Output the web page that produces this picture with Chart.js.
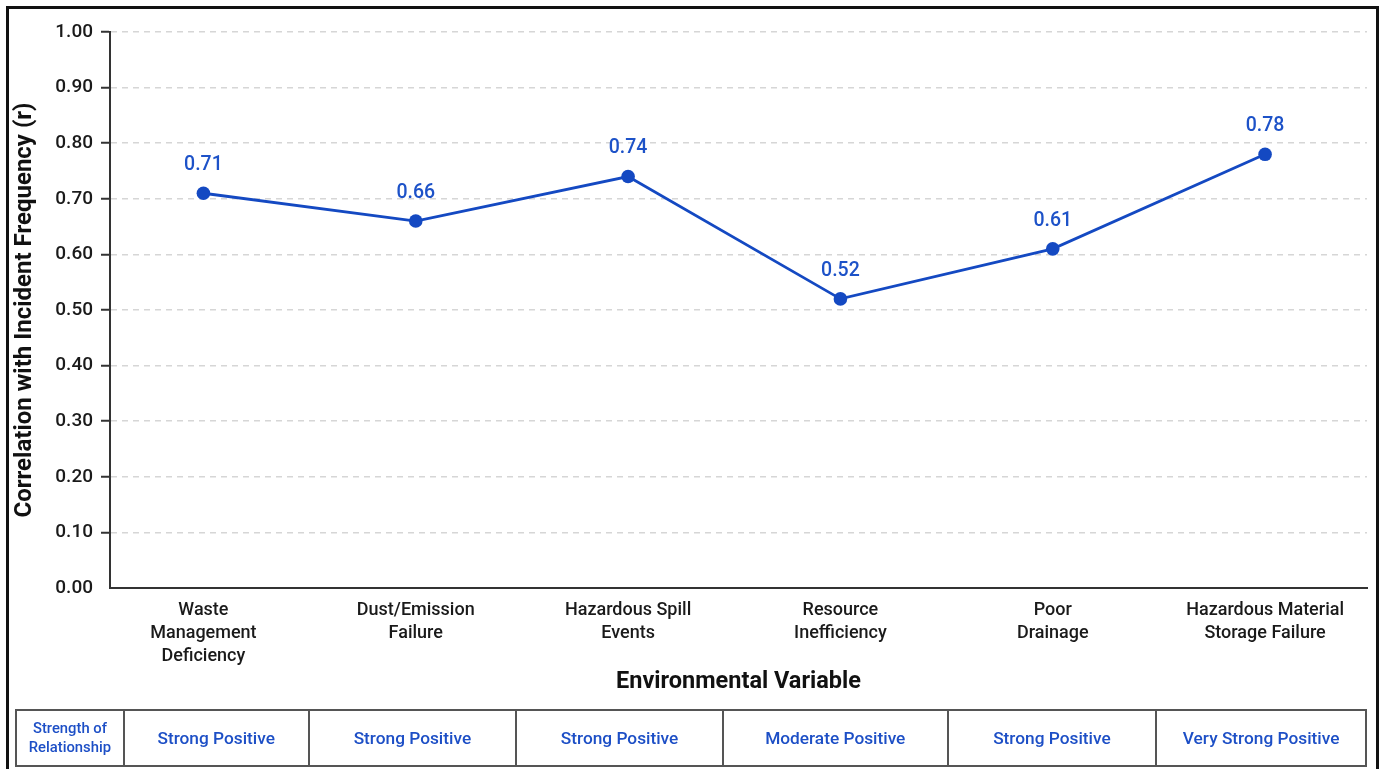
<!DOCTYPE html>
<html>
<head>
<meta charset="utf-8">
<script src="https://cdn.jsdelivr.net/npm/chart.js@4.4.1/dist/chart.umd.min.js"></script>
<style>
  html, body { margin: 0; padding: 0; background: #fff; }
  #wrap { position: relative; width: 1384px; height: 769px; overflow: hidden; background: #fff; }
  #frame { position: absolute; left: 6px; top: 6px; width: 1367px; height: 780px;
           border: 3px solid #111; box-sizing: content-box; }
  #c { position: absolute; left: 0; top: 0; }
  #strength { position: absolute; left: 15px; top: 709px; width: 1352px; height: 58px;
              border-collapse: collapse; table-layout: fixed;
              font-family: Roboto, "Liberation Sans", sans-serif; font-weight: 500; color: #1d4fc6; }
  #strength td { border: 2px solid #555; text-align: center; vertical-align: middle;
                 font-size: 17.3px; padding: 0; overflow: hidden; white-space: nowrap; }
  #strength td.head { font-size: 14.8px; line-height: 19px; white-space: normal; }
</style>
</head>
<body>
<div id="wrap">
  <canvas id="c" width="1384" height="769"></canvas>
  <div id="frame"></div>
  <table id="strength"><colgroup id="cols"></colgroup><tr id="strengthRow"></tr></table>
</div>
<script>
// Environmental variables and their correlation with incident frequency
const categories = [
  ["Waste", "Management", "Deficiency"],
  ["Dust/Emission", "Failure"],
  ["Hazardous Spill", "Events"],
  ["Resource", "Inefficiency"],
  ["Poor", "Drainage"],
  ["Hazardous Material", "Storage Failure"]
];
const correlations = [0.71, 0.66, 0.74, 0.52, 0.61, 0.78];
const strengthLabels = ["Strong Positive", "Strong Positive", "Strong Positive",
                        "Moderate Positive", "Strong Positive", "Very Strong Positive"];
const yTicks = [0, 0.1, 0.2, 0.3, 0.4, 0.5, 0.6, 0.7, 0.8, 0.9, 1.0];

const BLUE = '#1449c2';
const LABEL_BLUE = '#1d52c8';
const FONT = 'Roboto, "Liberation Sans", sans-serif';

// Strength-of-relationship row under the chart
const colWidths = [108, 185, 208, 207, 225, 209, 210];
const cols = document.getElementById('cols');
colWidths.forEach(w => {
  const col = document.createElement('col');
  col.style.width = (w / 1352 * 100) + '%';
  cols.appendChild(col);
});
const row = document.getElementById('strengthRow');
const head = document.createElement('td');
head.className = 'head';
head.innerHTML = 'Strength of<br>Relationship';
row.appendChild(head);
strengthLabels.forEach(s => {
  const td = document.createElement('td');
  td.textContent = s;
  row.appendChild(td);
});

// Value labels above each point
const valueLabels = {
  id: 'valueLabels',
  afterDatasetsDraw(chart) {
    const ctx = chart.ctx;
    const meta = chart.getDatasetMeta(0);
    ctx.save();
    ctx.fillStyle = LABEL_BLUE;
    ctx.font = '500 19.5px ' + FONT;
    ctx.textAlign = 'center';
    ctx.textBaseline = 'middle';
    meta.data.forEach((pt, i) => {
      ctx.fillText(correlations[i].toFixed(2), pt.x, pt.y - 28);
    });
    ctx.restore();
  }
};

new Chart(document.getElementById('c'), {
  type: 'line',
  data: {
    datasets: [{
      data: correlations.map((v, i) => ({ x: i, y: v })),
      borderColor: BLUE,
      backgroundColor: BLUE,
      borderWidth: 2.8,
      pointRadius: 6.8,
      pointHoverRadius: 6.8,
      pointBackgroundColor: BLUE,
      pointBorderWidth: 0,
      tension: 0
    }]
  },
  options: {
    responsive: false,
    animation: false,
    events: [],
    layout: { padding: { top: 32, right: 17, bottom: 69, left: 0 } },
    plugins: { legend: { display: false }, tooltip: { enabled: false } },
    scales: {
      x: {
        type: 'linear',
        min: -0.44,
        max: 5.48,
        afterBuildTicks: (s) => { s.ticks = categories.map((c, i) => ({ value: i })); },
        afterFit: (s) => { s.height = 112; },
        grid: { display: false, drawTicks: false },
        border: { display: true, color: '#333', width: 2 },
        ticks: {
          padding: 11,
          color: '#1a1a1a',
          font: { family: FONT, size: 18, weight: 500, lineHeight: 1.28 },
          maxRotation: 0,
          autoSkip: false,
          callback: (v) => categories[v] || ''
        },
        title: {
          display: true,
          text: 'Environmental Variable',
          color: '#111',
          font: { family: FONT, size: 23.5, weight: 'bold', lineHeight: 1.2 },
          padding: { top: 0, bottom: 4 }
        }
      },
      y: {
        min: 0,
        max: 1.0,
        afterBuildTicks: (s) => { s.ticks = yTicks.map(v => ({ value: v })); },
        afterFit: (s) => { s.width = 110; },
        border: { display: true, color: '#333', width: 2, dash: [6, 5] },
        grid: {
          color: (c) => (c.tick && c.tick.value === 0) ? 'rgba(0,0,0,0)' : '#d6d6d6',
          lineWidth: 1.5,
          drawTicks: true,
          tickLength: 9,
          tickColor: (c) => (c.tick && c.tick.value === 0) ? 'rgba(0,0,0,0)' : '#333',
          tickWidth: 2,
          tickBorderDash: []
        },
        ticks: {
          padding: 8,
          color: '#1a1a1a',
          font: { family: FONT, size: 19, weight: 500 },
          callback: (v) => Number(v).toFixed(2)
        },
        title: {
          display: true,
          text: 'Correlation with Incident Frequency (r)',
          color: '#111',
          font: { family: FONT, size: 24, weight: 'bold', lineHeight: 1.2 },
          padding: { top: 11, bottom: 0 }
        }
      }
    }
  },
  plugins: [valueLabels]
});
</script>
</body>
</html>
